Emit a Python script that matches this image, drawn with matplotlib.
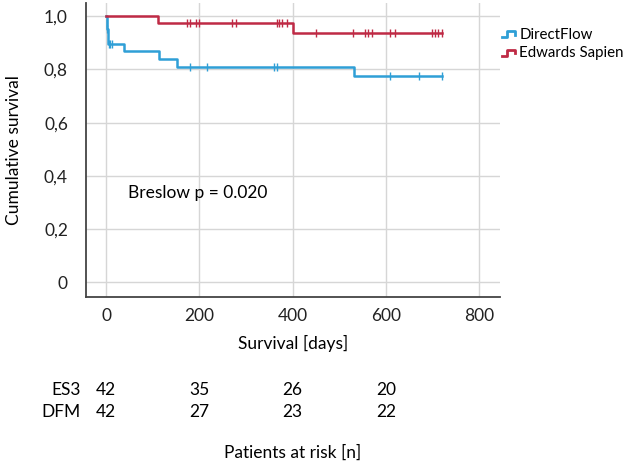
import matplotlib
matplotlib.use("Agg")
import matplotlib.pyplot as plt
from matplotlib.legend_handler import HandlerBase
from matplotlib.lines import Line2D
import matplotlib.transforms as mtransforms

plt.rcParams['font.family'] = ['Lato', 'DejaVu Sans']

# Kaplan-Meier step curves (time in days, survival)
df_times = [0, 1, 2, 5, 39, 114, 152, 532, 720]
df_surv = [1.0, 0.976, 0.952, 0.897, 0.868, 0.838, 0.808, 0.774, 0.774]
df_cens_t = [1, 3, 6, 9, 12, 179, 216, 360, 366, 609, 671, 720]
df_cens_s = [0.976, 0.952, 0.897, 0.897, 0.897, 0.808, 0.808, 0.808, 0.808, 0.774, 0.774, 0.774]

es_times = [0, 111, 400, 720]
es_surv = [1.0, 0.976, 0.937, 0.937]
es_cens_t = [174, 180, 193, 199, 270, 279, 366, 371, 377, 388,
             450, 530, 555, 561, 570, 609, 620, 699, 705, 712, 720]
es_cens_s = [0.976] * 10 + [0.937] * 11

risk_times = [0, 200, 400, 600]
risk_es3 = [42, 35, 26, 20]
risk_dfm = [42, 27, 23, 22]

x_ticks = [0, 200, 400, 600, 800]
y_ticks = [0, 0.2, 0.4, 0.6, 0.8, 1.0]
y_labels = ["0", "0,2", "0,4", "0,6", "0,8", "1,0"]

blue = '#2f9fd6'
red = '#bf2a45'
fs = 12.5


class HandlerStep(HandlerBase):
    def create_artists(self, legend, orig_handle, xdescent, ydescent,
                       width, height, fontsize, trans):
        w = width * 0.75
        x0 = width - w
        xs = [x0, x0 + w * 0.4, x0 + w * 0.4, x0 + w, x0 + w]
        ys = [0.15 * height, 0.15 * height, 0.75 * height, 0.75 * height, 0.4 * height]
        ln = Line2D(xs, ys, color=orig_handle.get_color(), lw=2, transform=trans)
        return [ln]


fig = plt.figure(figsize=(6.3, 4.63), dpi=100)
ax = fig.add_axes([0.1365, 0.3585, 0.6575, 0.635])

h1, = ax.step(df_times, df_surv, where='post', color=blue, lw=1.8, label='DirectFlow')
h2, = ax.step(es_times, es_surv, where='post', color=red, lw=1.8, label='Edwards Sapien')
ax.plot(df_cens_t, df_cens_s, ls='none', marker='|', ms=6, mew=1, color=blue)
ax.plot(es_cens_t, es_cens_s, ls='none', marker='|', ms=6, mew=1, color=red)

ax.set_xlim(-43, 845)
ax.set_ylim(-0.056, 1.05)
ax.set_xticks(x_ticks)
ax.set_yticks(y_ticks)
ax.set_yticklabels(y_labels)
ax.tick_params(axis='both', length=0, labelsize=fs, colors='#222222')
ax.tick_params(axis='y', pad=13)
ax.tick_params(axis='x', pad=8)
ax.grid(True, color='#d6d6d6', lw=1)
ax.set_axisbelow(True)
for s in ['top', 'right']:
    ax.spines[s].set_visible(False)
for s in ['left', 'bottom']:
    ax.spines[s].set_color('#444444')
    ax.spines[s].set_linewidth(1.3)

ax.set_xlabel("Survival [days]", fontsize=fs, labelpad=8)
ax.set_ylabel("Cumulative survival", fontsize=fs, labelpad=16)

ax.text(47, 0.335, "Breslow p = 0.020", fontsize=fs, va='center', ha='left')

leg = ax.legend(handles=[h1, h2], handler_map={Line2D: HandlerStep()},
                loc='upper left', bbox_to_anchor=(0.995, 0.915), frameon=False,
                fontsize=10.8, handlelength=1.1, handletextpad=0.3,
                labelspacing=0.3, borderaxespad=0, borderpad=0)

# patients at risk table
trans = mtransforms.blended_transform_factory(ax.transData, fig.transFigure)
fig.text(0.128, 0.158, "ES3", ha='right', va='center', fontsize=fs)
fig.text(0.128, 0.11, "DFM", ha='right', va='center', fontsize=fs)
for t, a, b in zip(risk_times, risk_es3, risk_dfm):
    ax.text(t, 0.158, str(a), transform=trans, ha='center', va='center', fontsize=fs)
    ax.text(t, 0.11, str(b), transform=trans, ha='center', va='center', fontsize=fs)
ax.text(0.5, 0.022, "Patients at risk [n]", transform=mtransforms.blended_transform_factory(ax.transAxes, fig.transFigure),
        ha='center', va='center', fontsize=fs)

fig.savefig("out.png", dpi=100)
